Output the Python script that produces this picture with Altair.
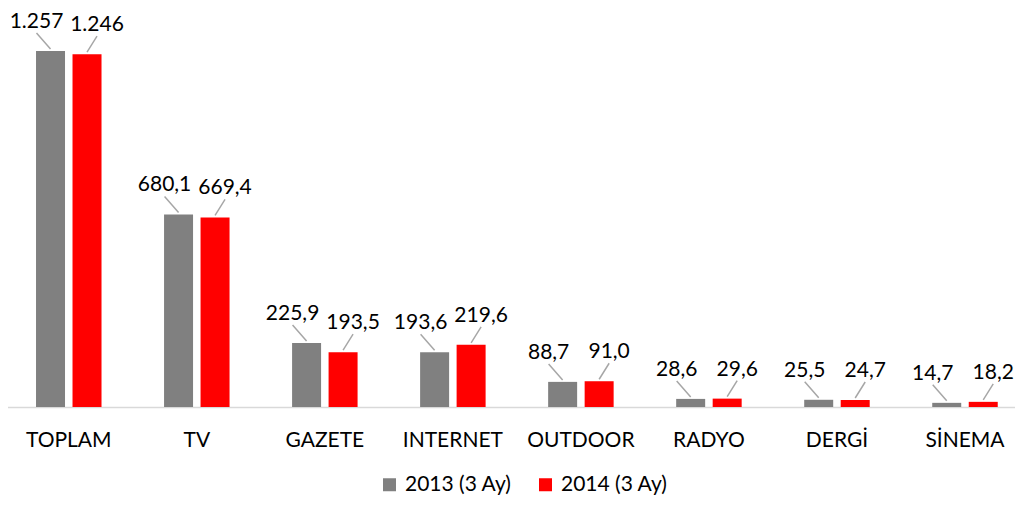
import altair as alt
import pandas as pd

categories = ["TOPLAM", "TV", "GAZETE", "INTERNET", "OUTDOOR", "RADYO", "DERGİ", "SİNEMA"]
series = ["2013 (3 Ay)", "2014 (3 Ay)"]
values_2013 = [1257, 680.1, 225.9, 193.6, 88.7, 28.6, 25.5, 14.7]
values_2014 = [1246, 669.4, 193.5, 219.6, 91.0, 29.6, 24.7, 18.2]
labels_2013 = ["1.257", "680,1", "225,9", "193,6", "88,7", "28,6", "25,5", "14,7"]
labels_2014 = ["1.246", "669,4", "193,5", "219,6", "91,0", "29,6", "24,7", "18,2"]
colors = ["#808080", "#FF0000"]

rows = []
for c, v, l in zip(categories, values_2013, labels_2013):
    rows.append({"cat": c, "series": series[0], "value": v, "label": l})
for c, v, l in zip(categories, values_2014, labels_2014):
    rows.append({"cat": c, "series": series[1], "value": v, "label": l})
df = pd.DataFrame(rows)

FONT = "Lato"

xenc = alt.X("cat:N", sort=categories, bandPosition=0.5,
             scale=alt.Scale(paddingInner=0, paddingOuter=0, range=[-3.25, 1021]),
             axis=alt.Axis(title=None, labelAngle=0, ticks=False, domainColor="#D9D9D9",
                           domainWidth=1.5, labelFontSize=21, labelFont=FONT,
                           labelColor="#000000", labelPadding=22))
yenc = alt.Y("value:Q", scale=alt.Scale(domain=[0, 1409]), axis=None)

base = alt.Chart(df)

color = alt.Color("series:N", scale=alt.Scale(domain=series, range=colors),
                  legend=alt.Legend(title=None, orient="none", legendX=371, legendY=466,
                                    direction="horizontal", symbolType="square",
                                    symbolSize=169, symbolStrokeWidth=0, labelFontSize=21,
                                    labelFont=FONT, labelColor="#000000", labelOffset=5,
                                    columnPadding=23))

layers = []
offs = [-18.25, 18.25]
ldx = [-14, 10]
for i, s in enumerate(series):
    sub = base.transform_filter(alt.datum.series == s)
    layers.append(sub.mark_bar(width=29, xOffset=offs[i]).encode(x=xenc, y=yenc, color=color))
    layers.append(sub.mark_rule(color="#A6A6A6", strokeWidth=1.5, xOffset=offs[i],
                                x2Offset=offs[i] + ldx[i], yOffset=-2, y2Offset=-18).encode(
        x=xenc, x2=alt.X2("cat:N", bandPosition=0.5), y=yenc, y2=alt.Y2("value:Q")))
    layers.append(sub.mark_text(font=FONT, fontSize=21, color="#000000", baseline="middle",
                                dx=offs[i] + ldx[i], dy=-29).encode(
        x=xenc, y=yenc, text="label:N"))

chart = alt.layer(*layers).properties(
    width=1007, height=399,
    padding={"left": 0, "top": 0, "right": 0, "bottom": 90},
    autosize=alt.AutoSizeParams(type="none"),
).configure_view(stroke=None)

chart.save("out.html", embed_options={"renderer": "svg", "actions": False})
